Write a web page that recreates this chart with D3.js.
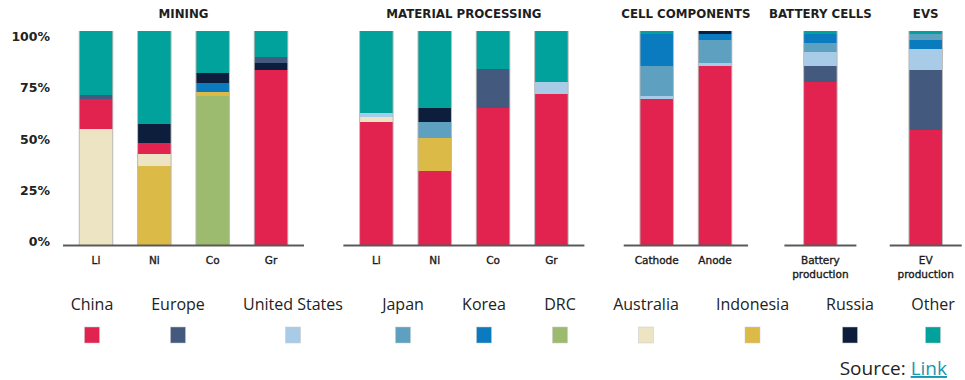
<!DOCTYPE html>
<html>
<head>
<meta charset="utf-8">
<script src="https://cdn.jsdelivr.net/npm/d3@7"></script>
<style>
  html, body { margin: 0; padding: 0; background: #fff; }
  svg { display: block; }
</style>
</head>
<body>
<svg id="chart" width="965" height="380"></svg>
<script>
// Supply-chain stages and the bars inside each of them
const stages = ["MINING", "MATERIAL PROCESSING", "CELL COMPONENTS", "BATTERY CELLS", "EVS"];
const barStage = [0, 0, 0, 0, 1, 1, 1, 1, 2, 2, 3, 4];
const barLabels = ["Li", "Ni", "Co", "Gr", "Li", "Ni", "Co", "Gr", "Cathode", "Anode",
                   "Battery\nproduction", "EV\nproduction"];

// Countries / regions (legend order)
const countries = ["China", "Europe", "United States", "Japan", "Korea", "DRC",
                   "Australia", "Indonesia", "Russia", "Other"];
const countryColors = ["#e2234f", "#43597e", "#a8cce8", "#5ea0bf", "#0a7bbf", "#9dbb6f",
                       "#ede4c3", "#dcba47", "#0c1e3b", "#00a29b"];

// Share of each stage (%), one value per bar
const china        = [14.1, 5.1, 0, 81.8, 57.4, 34.7, 64.0, 70.5, 68.3, 83.5, 76.1, 53.8];
const europe       = [1.9, 0, 0, 2.8, 0, 0, 18.3, 0, 0, 0, 7.5, 28.0];
const unitedStates = [0, 0, 0, 0, 1.8, 0, 0, 5.6, 1.5, 1.4, 6.8, 9.8];
const japan        = [0, 0, 0, 0, 0, 7.5, 0, 0, 13.8, 10.9, 4.1, 2.7];
const korea        = [0, 0, 4.2, 0, 0, 0, 0, 0, 14.8, 2.8, 4.2, 4.2];
const drc          = [0, 0, 69.8, 0, 0, 0, 0, 0, 0, 0, 0, 0];
const australia    = [54.2, 5.5, 0, 0, 2.4, 0, 0, 0, 0, 0, 0, 0];
const indonesia    = [0, 37.1, 1.8, 0, 0, 15.2, 0, 0, 0, 0, 0, 0];
const russia       = [0, 9.0, 4.7, 3.1, 0, 6.5, 0, 0, 0, 1.4, 0, 0];
const other        = [29.8, 43.3, 19.5, 12.3, 38.4, 36.1, 17.7, 23.9, 1.6, 0, 1.3, 1.5];

// Stacking order of each bar, bottom to top
const stackOrder = [
  ["Australia", "China", "Europe", "Other"],
  ["Indonesia", "Australia", "China", "Russia", "Other"],
  ["DRC", "Indonesia", "Korea", "Russia", "Other"],
  ["China", "Russia", "Europe", "Other"],
  ["China", "Australia", "United States", "Other"],
  ["China", "Indonesia", "Japan", "Russia", "Other"],
  ["China", "Europe", "Other"],
  ["China", "United States", "Other"],
  ["China", "United States", "Japan", "Korea", "Other"],
  ["China", "United States", "Japan", "Korea", "Russia"],
  ["China", "Europe", "United States", "Japan", "Korea", "Other"],
  ["China", "Europe", "United States", "Korea", "Japan", "Other"]
];

const yTicks = [0, 25, 50, 75, 100];

// ---------------------------------------------------------------------------
const seriesByCountry = {
  "China": china, "Europe": europe, "United States": unitedStates, "Japan": japan,
  "Korea": korea, "DRC": drc, "Australia": australia, "Indonesia": indonesia,
  "Russia": russia, "Other": other
};
const color = d3.scaleOrdinal().domain(countries).range(countryColors);

const svg = d3.select("#chart");
const font = "'DejaVu Sans', sans-serif";

// Horizontal slots: bars are evenly spaced, stages are separated by an extra gap
const stageGap = 0.805;
const slot = barStage.map((s, i) => i + s * stageGap);
const x = d3.scaleLinear().domain([0, d3.max(slot)]).range([96, 925.7]);
const barW = 33.5;

const y = d3.scaleLinear().domain([0, 100]).range([245.5, 31]);
const yLabel = d3.scaleLinear().domain([0, 100]).range([241.7, 36.7]);

// Percent labels
svg.append("g").selectAll("text").data(yTicks).join("text")
  .attr("x", 50).attr("y", d => yLabel(d))
  .attr("text-anchor", "end").attr("dominant-baseline", "central")
  .attr("font-family", font).attr("font-size", 12.5).attr("font-weight", 600)
  .attr("fill", "#222")
  .text(d => d + "%");

// Stacked segments
const segs = [];
barLabels.forEach((_, i) => {
  let acc = 0;
  stackOrder[i].forEach(c => {
    const v = seriesByCountry[c][i];
    if (v > 0) { segs.push({ bar: i, country: c, y0: acc, y1: acc + v }); }
    acc += v;
  });
});

svg.append("g").selectAll("rect").data(segs).join("rect")
  .attr("x", d => x(slot[d.bar]) - barW / 2)
  .attr("width", barW)
  .attr("y", d => y(d.y1))
  .attr("height", d => y(d.y0) - y(d.y1))
  .attr("fill", d => color(d.country))
  .attr("shape-rendering", "crispEdges");

// Thin grey edges along the bar sides
const edges = svg.append("g").attr("stroke", "#b8b8b8").attr("stroke-width", 1);
barLabels.forEach((_, i) => {
  [-barW / 2, barW / 2].forEach(dx => {
    edges.append("line")
      .attr("x1", x(slot[i]) + dx).attr("x2", x(slot[i]) + dx)
      .attr("y1", y(100)).attr("y2", y(0));
  });
});

// Stage baselines and titles
stages.forEach((name, s) => {
  const idx = barStage.map((b, i) => b === s ? i : -1).filter(i => i >= 0);
  const first = x(slot[idx[0]]), last = x(slot[idx[idx.length - 1]]);
  const pad = idx.length > 1 ? 33 : 36;
  svg.append("line")
    .attr("x1", first - pad).attr("x2", last + pad)
    .attr("y1", y(0)).attr("y2", y(0))
    .attr("stroke", "#5a5a5a").attr("stroke-width", 2);
  svg.append("text")
    .attr("x", (first + last) / 2).attr("y", 17.5)
    .attr("text-anchor", "middle")
    .attr("font-family", font).attr("font-size", 11.8).attr("font-weight", "bold")
    .attr("fill", "#1e1e1e")
    .text(name);
});

// Bar labels (may span two lines), drawn medium weight
barLabels.forEach((lab, i) => {
  const t = svg.append("text")
    .attr("x", x(slot[i])).attr("y", 263.5)
    .attr("text-anchor", "middle")
    .attr("font-family", font).attr("font-size", 10.5)
    .attr("fill", "#1a1a1a").attr("stroke", "#1a1a1a").attr("stroke-width", 0.35);
  lab.split("\n").forEach((line, k) => {
    t.append("tspan").attr("x", x(slot[i])).attr("dy", k === 0 ? 0 : 14).text(line);
  });
});

// Legend
const legendX = [92, 178, 293, 403, 484, 560, 646, 752.5, 850, 933];
const legendPos = d3.scaleOrdinal().domain(countries).range(legendX);
const lg = svg.append("g").selectAll("g").data(countries).join("g")
  .attr("transform", d => `translate(${legendPos(d)},0)`);
lg.append("text")
  .attr("y", 310).attr("text-anchor", "middle")
  .attr("font-family", "'Open Sans', sans-serif").attr("font-size", 16)
  .attr("fill", "#222")
  .text(d => d);
lg.append("rect")
  .attr("x", -7.5).attr("y", 327).attr("width", 15).attr("height", 16)
  .attr("fill", d => color(d))
  .attr("stroke", "#c8c8c8").attr("stroke-width", 0.5);

// Source line
const src = svg.append("text")
  .attr("x", 947).attr("y", 375).attr("text-anchor", "end")
  .attr("font-family", "'Open Sans', sans-serif").attr("font-size", 19)
  .attr("fill", "#222");
src.append("tspan").text("Source: ");
src.append("tspan").attr("fill", "#1696b0").attr("text-decoration", "underline").text("Link");
</script>
</body>
</html>
